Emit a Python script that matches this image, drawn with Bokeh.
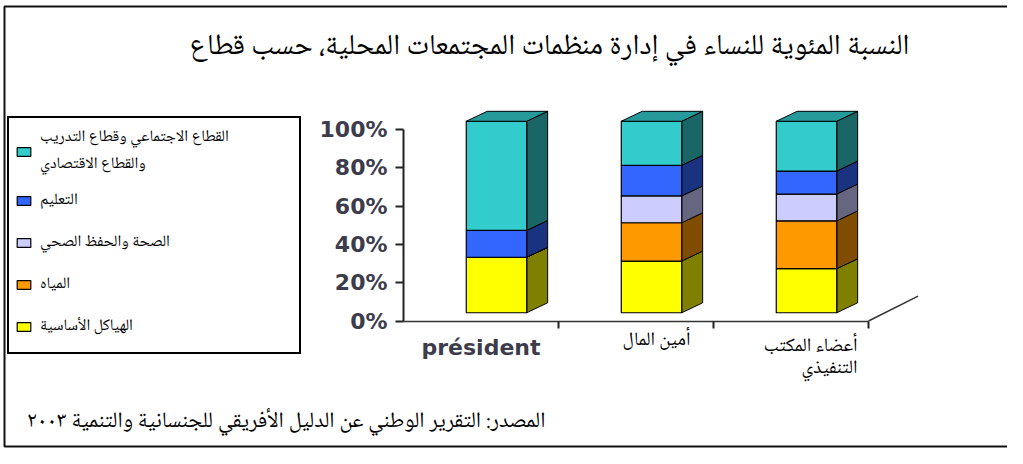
from bokeh.plotting import figure
from bokeh.models import (Range1d, FixedTicker, PrintfTickFormatter, Legend,
                          LegendItem, Label, BoxAnnotation)
from bokeh.embed import file_html
from bokeh.resources import INLINE

# ---------------- data ----------------
categories = ["président", "أمين المال", "أعضاء المكتب التنفيذي"]
category_labels = ["président", "أمين المال", "أعضاء المكتب\nالتنفيذي"]
series_names = ["الهياكل الأساسية", "المياه", "الصحة والحفظ الصحي", "التعليم",
                "القطاع الاجتماعي وقطاع التدريب\nوالقطاع الاقتصادي"]
infrastructure = [29, 27, 23]
water = [0, 20, 25]
health = [0, 14, 14]
education = [14, 16, 12]
social = [57, 23, 26]
y_ticks = [0, 20, 40, 60, 80, 100]
title_text = "النسبة المئوية للنساء في إدارة منظمات المجتمعات المحلية، حسب قطاع"
source_text = "المصدر: التقرير الوطني عن الدليل الأفريقي للجنسانية والتنمية ٢٠٠٣"

series = [infrastructure, water, health, education, social]
front_colors = ["#FFFF00", "#FF9900", "#CCCCFF", "#3366FF", "#33CCCC"]
side_colors = ["#808000", "#804C00", "#666680", "#1A3380", "#1A6666"]
top_color = "#269A9A"

AR_FONT = "Noto Naskh Arabic, Amiri, Noto Sans Arabic, DejaVu Sans"
AX_COLOR = "#3c3c4c"

# canvas / scale layout (pixels)
W, H = 1007, 448
X0_PX, Y0_PX = 403.0, 320.5      # where data (0, 0) sits on the canvas
PXU_X, PXU_Y = 155.0, 1.915      # pixels per data unit

# 3-D geometry (data units)
BAR_W = 0.39
SHIFT_X = 0.10
FLOOR_Y = 4.3
DEPTH_X = 0.135
DEPTH_Y = 5.2
FLOOR_DX = 0.32
FLOOR_DY = 13.0

n = len(categories)
p = figure(width=W, height=H, output_backend="svg", toolbar_location=None,
           x_range=Range1d(-X0_PX / PXU_X, (W - X0_PX) / PXU_X),
           y_range=Range1d(-(H - Y0_PX) / PXU_Y, Y0_PX / PXU_Y),
           min_border=0)
p.outline_line_color = None
p.grid.visible = False
p.background_fill_color = "white"
p.border_fill_color = "white"

# outer frame of the picture
p.add_layout(BoxAnnotation(left=4, right=W + 20, top=H - 6, bottom=2,
                           left_units="screen", right_units="screen",
                           top_units="screen", bottom_units="screen",
                           fill_alpha=0, line_color="#111111", line_alpha=1,
                           line_width=2))

# ---- stacked 3-D bars ----
cum = [0.0] * n
front_renderers = []
for k, vals in enumerate(series):
    left = [i + 0.5 + SHIFT_X - BAR_W / 2 for i in range(n)]
    right = [l + BAR_W for l in left]
    bottom = [cum[i] + FLOOR_Y for i in range(n)]
    top = [cum[i] + vals[i] + FLOOR_Y for i in range(n)]
    xs = [[r, r + DEPTH_X, r + DEPTH_X, r] for r in right]
    ys = [[b, b + DEPTH_Y, t + DEPTH_Y, t] for b, t in zip(bottom, top)]
    p.patches(xs, ys, fill_color=side_colors[k], line_color="black", line_width=1)
    r = p.quad(left=left, right=right, bottom=bottom, top=top,
               fill_color=front_colors[k], line_color="black", line_width=1.2)
    front_renderers.append(r)
    cum = [cum[i] + vals[i] for i in range(n)]

left = [i + 0.5 + SHIFT_X - BAR_W / 2 for i in range(n)]
tops = [c + FLOOR_Y for c in cum]
p.patches([[l, l + DEPTH_X, l + BAR_W + DEPTH_X, l + BAR_W] for l in left],
          [[t, t + DEPTH_Y, t + DEPTH_Y, t] for t in tops],
          fill_color=top_color, line_color="black", line_width=1)

# floor edge on the right
p.line([n, n + FLOOR_DX], [0, FLOOR_DY], line_color="#333333", line_width=1.5)

# ---- axes (fixed at the data origin) ----
ya = p.yaxis[0]
ya.fixed_location = 0
ya.ticker = FixedTicker(ticks=y_ticks)
ya.formatter = PrintfTickFormatter(format="%d%%")
ya.bounds = (0, 100)
ya.axis_line_width = 2
ya.axis_line_color = "#222222"
ya.major_tick_line_width = 2
ya.major_tick_line_color = "#222222"
ya.major_tick_out = 8
ya.major_tick_in = 0
ya.minor_tick_line_color = None
ya.major_label_standoff = 8
ya.major_label_text_font = "DejaVu Sans"
ya.major_label_text_font_style = "bold"
ya.major_label_text_font_size = "22px"
ya.major_label_text_color = AX_COLOR

xa = p.xaxis[0]
xa.fixed_location = 0
xa.ticker = FixedTicker(ticks=[i + 0.5 for i in range(n)],
                        minor_ticks=[i + 1 for i in range(n)])
xa.bounds = (0, n)
xa.axis_line_width = 1.5
xa.axis_line_color = "#333333"
xa.major_tick_line_color = None
xa.minor_tick_out = 7
xa.minor_tick_in = 0
xa.minor_tick_line_width = 2
xa.minor_tick_line_color = "#222222"
xa.major_label_overrides = {i + 0.5: (category_labels[i] if i == 0 else "") for i in range(n)}
xa.major_label_standoff = 7
xa.major_label_text_font = "DejaVu Sans"
xa.major_label_text_font_style = "bold"
xa.major_label_text_font_size = "22px"
xa.major_label_text_color = AX_COLOR

# Arabic category labels (screen units: x from left, y from bottom)
p.add_layout(Label(x=656, y=H - 340, x_units="screen", y_units="screen",
                   text=category_labels[1], text_align="center",
                   text_baseline="middle", text_font=AR_FONT, text_font_size="19px",
                   text_color="black"))
p.add_layout(Label(x=857, y=H - 330, x_units="screen", y_units="screen",
                   text=category_labels[2], text_align="right",
                   text_baseline="top", text_font=AR_FONT, text_font_size="19px",
                   text_line_height=0.7, text_color="black"))

# ---- legend ----
items = [LegendItem(label=series_names[k], renderers=[front_renderers[k]])
         for k in reversed(range(len(series)))]
legend = Legend(items=items, location=(7, H - 354),
                border_line_color="black", border_line_width=2,
                border_line_alpha=1,
                background_fill_color="white", background_fill_alpha=1,
                glyph_width=17, glyph_height=11, label_standoff=8,
                padding=6, spacing=2, label_height=40, label_width=253,
                label_text_font=AR_FONT, label_text_font_size="16px",
                label_text_color="black")
p.add_layout(legend)

# ---- title and source ----
p.add_layout(Label(x=549, y=H - 47, x_units="screen", y_units="screen",
                   text=title_text, text_align="center", text_baseline="middle",
                   text_font=AR_FONT, text_font_size="29px", text_color="black"))
p.add_layout(Label(x=545, y=H - 421, x_units="screen", y_units="screen",
                   text=source_text, text_align="right", text_baseline="middle",
                   text_font=AR_FONT, text_font_size="22px", text_color="black"))

open("out.html", "w").write(file_html(p, INLINE))
